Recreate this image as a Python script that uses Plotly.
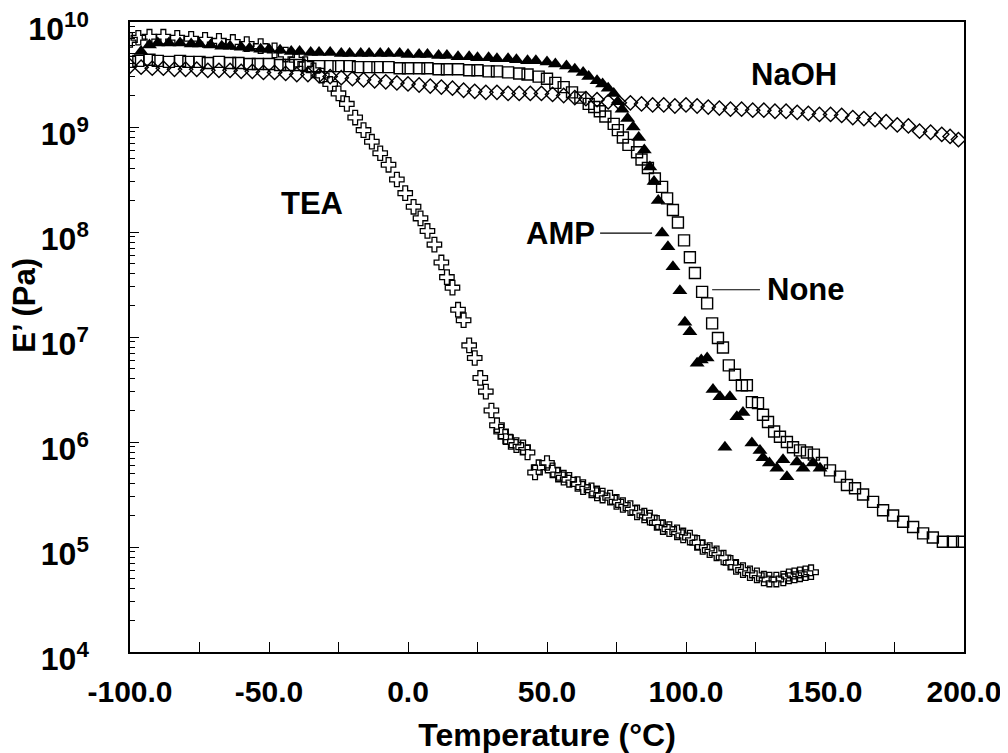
import plotly.graph_objects as go

# ---------------- data ----------------
tea_T = [-100, -97, -93, -88, -83, -78, -73, -68, -63, -58, -53, -48, -44, -40, -37, -34, -31, -28,
         -25, -22, -19, -16, -13, -10, -7, -4, -1, 2, 4.5, 7, 9.5, 12, 14, 16, 18, 20, 22, 24, 26,
         28, 30, 32, 33.5, 35, 37, 39, 41.4, 43, 45.7, 47, 50, 52, 54, 56, 58, 61, 63, 66, 68, 70,
         72.7, 75, 77.3, 80, 82.4, 85, 87, 89.5, 91.7, 94, 96.8, 99, 101.4, 104, 106, 108.5, 111,
         113.5, 116, 118, 120.5, 123, 125.5, 128, 130, 132.5, 135, 137, 139, 141, 143, 145]
tea_logE = [9.83, 9.85, 9.86, 9.86, 9.85, 9.84, 9.83, 9.82, 9.81, 9.79, 9.77, 9.73, 9.69, 9.64,
            9.60, 9.54, 9.49, 9.41, 9.32, 9.22, 9.09, 8.97, 8.86, 8.75, 8.64, 8.50, 8.37, 8.24,
            8.13, 8.01, 7.88, 7.71, 7.57, 7.47, 7.26, 7.16, 6.92, 6.80, 6.61, 6.48, 6.30, 6.16,
            6.10, 6.05, 6.00, 5.97, 5.95, 5.90, 5.71, 5.76, 5.80, 5.73, 5.69, 5.66, 5.64, 5.60,
            5.57, 5.54, 5.51, 5.49, 5.47, 5.43, 5.40, 5.37, 5.33, 5.30, 5.28, 5.23, 5.19, 5.17,
            5.14, 5.11, 5.09, 5.04, 5.00, 4.97, 4.94, 4.90, 4.85, 4.81, 4.78, 4.75, 4.73, 4.70,
            4.69, 4.69, 4.70, 4.72, 4.73, 4.74, 4.75, 4.76]

naoh_T = [-100, -96, -92, -88, -84, -80, -76, -72, -68, -64, -60, -56, -52, -48, -44, -40, -36,
          -32, -28, -24, -20, -16, -12, -8, -4, 0, 4, 8, 12, 16, 20, 24, 28, 32, 36, 40, 44, 48,
          52, 56, 60, 64, 68, 72, 76, 80, 84, 88, 92, 96, 100, 104, 108, 112, 116, 120, 124, 128,
          132, 136, 140, 144, 148, 152, 156, 160, 164, 168, 172, 176, 180, 184, 188, 192, 195, 198]
naoh_logE = [9.58, 9.57, 9.56, 9.56, 9.55, 9.55, 9.55, 9.54, 9.54, 9.54, 9.53, 9.53, 9.52, 9.52,
             9.51, 9.50, 9.50, 9.49, 9.48, 9.47, 9.46, 9.45, 9.44, 9.43, 9.42, 9.41, 9.40, 9.39,
             9.38, 9.37, 9.35, 9.34, 9.33, 9.33, 9.32, 9.32, 9.32, 9.32, 9.31, 9.30, 9.28, 9.27,
             9.26, 9.24, 9.23, 9.23, 9.22, 9.21, 9.21, 9.20, 9.21, 9.20, 9.19, 9.18, 9.17, 9.17,
             9.16, 9.16, 9.15, 9.15, 9.14, 9.13, 9.12, 9.12, 9.11, 9.09, 9.08, 9.07, 9.05, 9.02,
             9.01, 8.96, 8.95, 8.93, 8.91, 8.88]

amp_T = [-96, -93, -90, -86, -82, -78, -75, -71, -67, -64, -60, -57, -53, -50, -46, -42, -39, -35,
         -32, -28, -24, -21, -17, -14, -10, -7, -3, 0, 4, 7, 11, 14, 18, 22, 25, 29, 32, 36, 39,
         43, 46, 50, 53, 57, 60, 63, 65, 68, 70, 72, 74, 75.5, 77, 79, 81, 83, 85, 87, 88.5, 90,
         91.4, 93.5, 95.3, 97.8, 99.6, 101.4, 104, 105.5, 107.6, 109.7, 112.2, 114, 115.8, 118.3,
         120.5, 123.7, 126.6, 127.7, 130, 132.7, 134.9, 136.3, 139.9, 142.1, 145.7, 148.2]
amp_logE = [9.72, 9.78, 9.80, 9.80, 9.80, 9.79, 9.79, 9.78, 9.77, 9.77, 9.76, 9.75, 9.74, 9.74,
            9.73, 9.72, 9.72, 9.71, 9.71, 9.71, 9.70, 9.70, 9.70, 9.70, 9.70, 9.70, 9.70, 9.69,
            9.69, 9.69, 9.68, 9.68, 9.67, 9.67, 9.66, 9.66, 9.65, 9.65, 9.64, 9.63, 9.63, 9.62,
            9.60, 9.58, 9.55, 9.52, 9.48, 9.44, 9.41, 9.37, 9.32, 9.24, 9.17, 9.08, 9.00, 8.90,
            8.78, 8.62, 8.48, 8.30, 7.99, 7.86, 7.67, 7.44, 7.14, 7.05, 6.75, 6.78, 6.80, 6.50,
            6.43, 5.95, 6.43, 6.24, 6.28, 5.99, 5.92, 5.85, 5.80, 5.75, 5.83, 5.67, 5.81, 5.75,
            5.80, 5.75]

none_T = [-100, -97, -93, -90, -86, -82, -79, -75, -72, -68, -64, -61, -57, -54, -50, -46, -43,
          -39, -36, -32, -28, -25, -21, -18, -14, -11, -7, -3, 0, 4, 7, 11, 14, 18, 22, 25, 29, 32,
          36, 40, 43, 47, 50, 53, 56, 59, 62, 65, 67, 69, 71, 74, 75.5, 77.3, 79.3, 82.4, 84, 86.3,
          88.8, 91.4, 93.2, 95.3, 97.1, 99.3, 101.4, 103.2, 105.8, 107.6, 109.4, 111.5, 113.3,
          115.4, 117.6, 120.1, 121.9, 123.7, 125.9, 127.7, 129.5, 131.7, 133.8, 136.3, 138.5, 141,
          143.5, 146, 148.9, 151.8, 155.4, 157.9, 160.8, 163.7, 167.3, 170.9, 174.5, 178.1, 181.7,
          185.3, 188.8, 192.4, 196, 199.3]
none_logE = [9.62, 9.63, 9.64, 9.63, 9.62, 9.63, 9.62, 9.62, 9.61, 9.62, 9.61, 9.61, 9.60, 9.60,
             9.60, 9.59, 9.59, 9.59, 9.58, 9.58, 9.58, 9.58, 9.58, 9.57, 9.57, 9.57, 9.57, 9.56,
             9.56, 9.56, 9.56, 9.55, 9.55, 9.55, 9.54, 9.54, 9.53, 9.53, 9.52, 9.51, 9.50, 9.48,
             9.46, 9.42, 9.38, 9.33, 9.28, 9.22, 9.19, 9.15, 9.10, 9.03, 8.97, 8.90, 8.83, 8.76,
             8.69, 8.61, 8.51, 8.43, 8.32, 8.21, 8.09, 7.92, 7.76, 7.61, 7.43, 7.32, 7.13, 6.99,
             6.90, 6.73, 6.64, 6.54, 6.54, 6.38, 6.37, 6.26, 6.19, 6.10, 6.05, 6.00, 5.95, 5.92,
             5.90, 5.88, 5.80, 5.73, 5.67, 5.59, 5.56, 5.50, 5.43, 5.35, 5.30, 5.24, 5.19, 5.13,
             5.09, 5.05, 5.05, 5.05]

x_tickvals = [-100, -50, 0, 50, 100, 150, 200]
x_ticktext = ["-100.0", "-50.0", "0.0", "50.0", "100.0", "150.0", "200.0"]
x_minor_ticks = [-75, -25, 25, 75, 125, 175]
y_exponents = [4, 5, 6, 7, 8, 9, 10]

# ---------------- figure ----------------
FONT = "Liberation Sans, Arial, sans-serif"


def lin(vals):
    return [10 ** v for v in vals]


fig = go.Figure()

fig.add_trace(go.Scatter(
    x=naoh_T, y=lin(naoh_logE), mode="markers", name="NaOH",
    marker=dict(symbol="diamond-open", size=11, color="black", line=dict(width=1.4, color="black"))))
fig.add_trace(go.Scatter(
    x=tea_T, y=lin(tea_logE), mode="markers", name="TEA",
    marker=dict(symbol="cross-open", size=12, color="black", line=dict(width=1.3, color="black"))))
fig.add_trace(go.Scatter(
    x=none_T, y=lin(none_logE), mode="markers", name="None",
    marker=dict(symbol="square-open", size=11, color="black", line=dict(width=1.4, color="black"))))
fig.add_trace(go.Scatter(
    x=amp_T, y=lin(amp_logE), mode="markers", name="AMP",
    marker=dict(symbol="triangle-up", size=13, color="black", line=dict(width=0))))

# leader lines for the AMP and None labels
fig.add_trace(go.Scatter(x=[69.1, 87.8], y=[10 ** 7.99, 10 ** 7.99], mode="lines",
                         line=dict(color="black", width=1.2), hoverinfo="skip"))
fig.add_trace(go.Scatter(x=[109.4, 126.6], y=[10 ** 7.45, 10 ** 7.45], mode="lines",
                         line=dict(color="black", width=1.2), hoverinfo="skip"))

lab_font = dict(family=FONT, size=31, color="black", weight="bold")
fig.add_annotation(x=-34.5, y=8.27, text="TEA", showarrow=False, font=lab_font)
fig.add_annotation(x=139.0, y=9.50, text="NaOH", showarrow=False, font=lab_font)
fig.add_annotation(x=68.0, y=7.99, text="AMP", showarrow=False, font=lab_font, xanchor="right")
fig.add_annotation(x=128.5, y=7.45, text="None", showarrow=False, font=lab_font, xanchor="left")

# y-axis title placed as a rotated annotation (sits above the axis centre in the original)
fig.add_annotation(xref="paper", yref="paper", x=-0.126, y=0.551, text="E’ (Pa)",
                   textangle=-90, showarrow=False, xanchor="center", yanchor="middle",
                   font=dict(family=FONT, size=31, color="black", weight="bold"))

minor_vals = [m * 10 ** e for e in range(4, 10) for m in range(2, 10)]

fig.update_layout(
    width=1008, height=753,
    margin=dict(l=122, r=52, t=14, b=109, autoexpand=False),
    paper_bgcolor="white", plot_bgcolor="white",
    showlegend=False,
    font=dict(family=FONT, color="black"),
    xaxis=dict(
        range=[-100, 200], tickvals=x_tickvals, ticktext=x_ticktext,
        ticks="inside", ticklen=10, tickwidth=1.2, tickcolor="black",
        minor=dict(tickvals=x_minor_ticks, ticks="inside", ticklen=10, tickwidth=1.2,
                   tickcolor="black", showgrid=False),
        showline=True, linecolor="black", linewidth=1.5, mirror=True,
        showgrid=False, zeroline=False, automargin=False, ticklabeloverflow="allow",
        tickfont=dict(family=FONT, size=30, color="black", weight="bold"),
        ticklabelstandoff=12,
        title=dict(text="Temperature (°C)", standoff=17,
                   font=dict(family=FONT, size=32, color="black", weight="bold")),
    ),
    yaxis=dict(
        type="log", range=[4, 10],
        tickvals=[10 ** e for e in y_exponents],
        ticktext=["10<sup>%d</sup>" % e for e in y_exponents],
        ticks="inside", ticklen=9, tickwidth=1.2, tickcolor="black",
        minor=dict(tickvals=minor_vals, ticks="inside", ticklen=5, tickwidth=1, tickcolor="black",
                   showgrid=False),
        showline=True, linecolor="black", linewidth=1.5, mirror=True,
        showgrid=False, zeroline=False, automargin=False, ticklabeloverflow="allow",
        tickfont=dict(family=FONT, size=32, color="black", weight="bold"),
        ticklabelstandoff=33, ticklabelshift=7,
    ),
)

fig.write_html("out.html")
